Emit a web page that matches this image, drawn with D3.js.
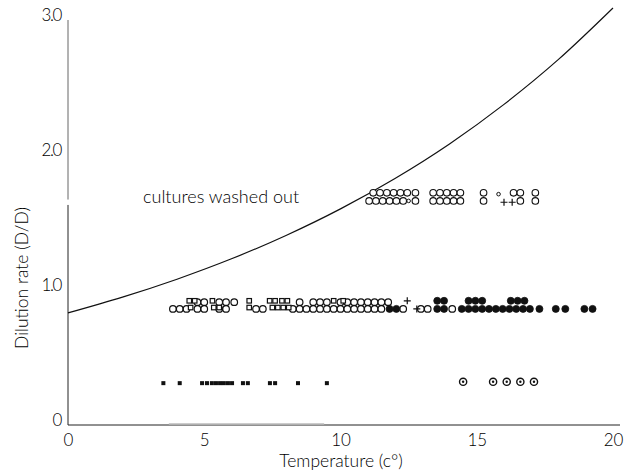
<!DOCTYPE html>
<html><head><meta charset="utf-8">
<script src="https://cdn.jsdelivr.net/npm/d3@7"></script>
<style>
body{margin:0;background:#fff;}
svg{display:block;}
text{font-family:"Lato","DejaVu Sans",sans-serif;fill:#000;font-weight:300;}
</style></head>
<body><div id="chart"></div>
<script>
// ---- data ----
const xTicks = [0, 5, 10, 15, 20];
const xTickLabels = ["0", "5", "10", "15", "20"];
const yTicks = [0, 1, 2, 3];
const yTickLabels = ["0", "1.0", "2.0", "3.0"];

// wash-out boundary curve (temperature, dilution rate)
const curveT = [0, 2, 4, 6, 8, 10, 12, 14, 16, 18, 20];
const curveD = [0.83, 0.947, 1.08, 1.231, 1.404, 1.601, 1.826, 2.082, 2.375, 2.708, 3.089];

// open circles – middle band, lower and upper sub-rows
const openLowT = [3.85, 4.1, 4.35, 4.75, 5.0, 5.55, 5.8, 6.9, 7.15, 8.25, 8.5, 8.75, 9.0, 9.25, 9.5, 9.75, 10.0, 10.25, 10.5, 10.75, 11.0, 11.25, 11.5, 12.3, 12.95, 13.2, 14.1];
const openLowD = 0.86;
const openHighT = [4.75, 5.0, 5.55, 5.8, 6.1, 8.5, 9.0, 9.25, 9.5, 10.0, 10.25, 10.5, 10.75, 11.0, 11.25, 11.5, 11.75];
const openHighD = 0.91;

// open squares – middle band
const sqHighT = [4.45, 4.65, 5.3, 6.65, 7.4, 7.6, 7.85, 8.05, 9.75, 10.1];
const sqLowT = [4.5, 5.35, 5.55, 6.65, 7.5, 7.7, 7.9, 8.1];

// filled circles – middle band
const fillLowT = [11.8, 12.05, 13.55, 13.8, 14.45, 14.7, 14.95, 15.2, 15.45, 15.7, 15.95, 16.2, 16.45, 16.7, 16.95, 17.3, 17.9, 18.25, 18.95, 19.25];
const fillHighT = [13.55, 13.8, 14.7, 14.95, 15.2, 16.25, 16.5, 16.75];

// plus signs
const plusT = [12.45, 12.8, 16.0, 16.3];
const plusD = [0.92, 0.86, 1.65, 1.65];

// open circles – washed-out band (two sub-rows)
const washTopT = [11.2, 11.45, 11.7, 11.95, 12.2, 12.45, 12.75, 13.4, 13.65, 13.9, 14.15, 14.4, 15.25, 16.35, 16.6, 17.15];
const washTopD = 1.72;
const washBotT = [11.05, 11.3, 11.55, 11.8, 12.05, 12.3, 12.75, 13.4, 13.65, 13.9, 14.15, 14.4, 15.25, 16.6, 17.15];
const washBotD = 1.66;
const washSmallT = [12.5, 15.8];
const washSmallD = [1.66, 1.71];

// small filled squares – low band
const smallSqT = [3.5, 4.1, 4.92, 5.1, 5.28, 5.43, 5.58, 5.72, 5.87, 6.02, 6.42, 6.6, 7.41, 7.6, 8.44, 9.5];
const smallSqD = 0.31;

// dotted circles – low band
const dotCircT = [14.5, 15.6, 16.1, 16.6, 17.1];
const dotCircD = 0.32;

// ---- drawing ----
const W = 631, H = 472;
const svg = d3.select("#chart").append("svg").attr("width", W).attr("height", H);
const x = d3.scaleLinear().domain([0, 20]).range([68, 613]);
const y = d3.scaleLinear().domain([0, 3]).range([425, 20]);
const FONT = "Lato, DejaVu Sans, sans-serif";

// axes lines
svg.append("line").attr("x1", x(0)).attr("x2", 620).attr("y1", y(0)).attr("y2", y(0))
  .attr("stroke", "#222").attr("stroke-width", 1);
svg.append("line").attr("x1", x(3.7)).attr("x2", x(9.4)).attr("y1", y(0) - 1).attr("y2", y(0) - 1)
  .attr("stroke", "#bbb").attr("stroke-width", 1.5);
svg.append("line").attr("x1", x(0)).attr("x2", x(0)).attr("y1", y(1.63)).attr("y2", y(0))
  .attr("stroke", "#222").attr("stroke-width", 1);
svg.append("line").attr("x1", x(0)).attr("x2", x(0)).attr("y1", y(3)).attr("y2", y(1.67))
  .attr("stroke", "#666").attr("stroke-width", 1);

// tick labels
const xAxis = d3.axisBottom(x).tickValues(xTicks).tickSize(0).tickFormat((d, i) => xTickLabels[i]);
const gx = svg.append("g").attr("transform", `translate(0,${y(0)})`).call(xAxis);
gx.select(".domain").remove();
gx.selectAll("text").attr("font-size", 17).attr("dy", "1.05em").attr("fill", "#000")
  .style("font-family", FONT).style("font-weight", 300);

const yAxis = d3.axisLeft(y).tickValues(yTicks).tickSize(0).tickFormat((d, i) => yTickLabels[i]);
const gy = svg.append("g").attr("transform", `translate(${x(0)},0)`).call(yAxis);
gy.select(".domain").remove();
gy.selectAll("text").attr("font-size", 17).attr("dx", "-0.25em").attr("dy", "0.05em").attr("fill", "#000")
  .attr("letter-spacing", "-1.5px")
  .style("font-family", FONT).style("font-weight", 300);

// axis titles
svg.append("text").attr("x", 341).attr("y", 467).attr("text-anchor", "middle")
  .attr("font-size", 17.5).text("Temperature (c°)");
svg.append("text").attr("transform", "translate(28,278) rotate(-90)").attr("text-anchor", "middle")
  .attr("font-size", 17.5).text("Dilution rate (D/D)");
svg.append("text").attr("x", 143).attr("y", 203).attr("font-size", 18).text("cultures washed out");

// curve
const curvePts = curveT.map((t, i) => [t, curveD[i]]);
svg.append("path").datum(curvePts)
  .attr("d", d3.line().x(d => x(d[0])).y(d => y(d[1])).curve(d3.curveMonotoneX))
  .attr("fill", "none").attr("stroke", "#111").attr("stroke-width", 1.2);

const g = svg.append("g");
function circles(ts, ds, r, fill, sw) {
  g.selectAll(null).data(ts.map((t, i) => [t, Array.isArray(ds) ? ds[i] : ds])).enter()
    .append("circle").attr("cx", d => x(d[0])).attr("cy", d => y(d[1])).attr("r", r)
    .attr("fill", fill).attr("stroke", "#111").attr("stroke-width", sw);
}
function squares(ts, ds, s, fill, sw) {
  g.selectAll(null).data(ts.map((t, i) => [t, Array.isArray(ds) ? ds[i] : ds])).enter()
    .append("rect").attr("x", d => x(d[0]) - s / 2).attr("y", d => y(d[1]) - s / 2)
    .attr("width", s).attr("height", s)
    .attr("fill", fill).attr("stroke", "#111").attr("stroke-width", sw);
}

// middle band
circles(openLowT, openLowD, 3.3, "#fff", 1.2);
circles(openHighT, openHighD, 3.3, "#fff", 1.2);
squares(sqHighT, openHighD + 0.01, 4.5, "#fff", 1.2);
squares(sqLowT, openLowD + 0.01, 4.5, "#fff", 1.2);
circles(fillLowT, openLowD, 3.5, "#111", 0.8);
circles(fillHighT, openHighD + 0.01, 3.5, "#111", 0.8);

// washed-out band
circles(washBotT, washBotD, 3.3, "#fff", 1.1);
circles(washTopT, washTopD, 3.3, "#fff", 1.1);
circles(washSmallT, washSmallD, 1.8, "#fff", 1);

// plus signs
g.selectAll(null).data(plusT.map((t, i) => [t, plusD[i]])).enter()
  .append("path")
  .attr("d", d => `M${x(d[0]) - 3.5},${y(d[1])}h7M${x(d[0])},${y(d[1]) - 3.5}v7`)
  .attr("stroke", "#111").attr("stroke-width", 1.2);

// low band
squares(smallSqT, smallSqD, 4, "#111", 0);
circles(dotCircT, dotCircD, 3.6, "#fff", 1.4);
circles(dotCircT, dotCircD, 1.2, "#111", 0);
</script>
</body></html>
